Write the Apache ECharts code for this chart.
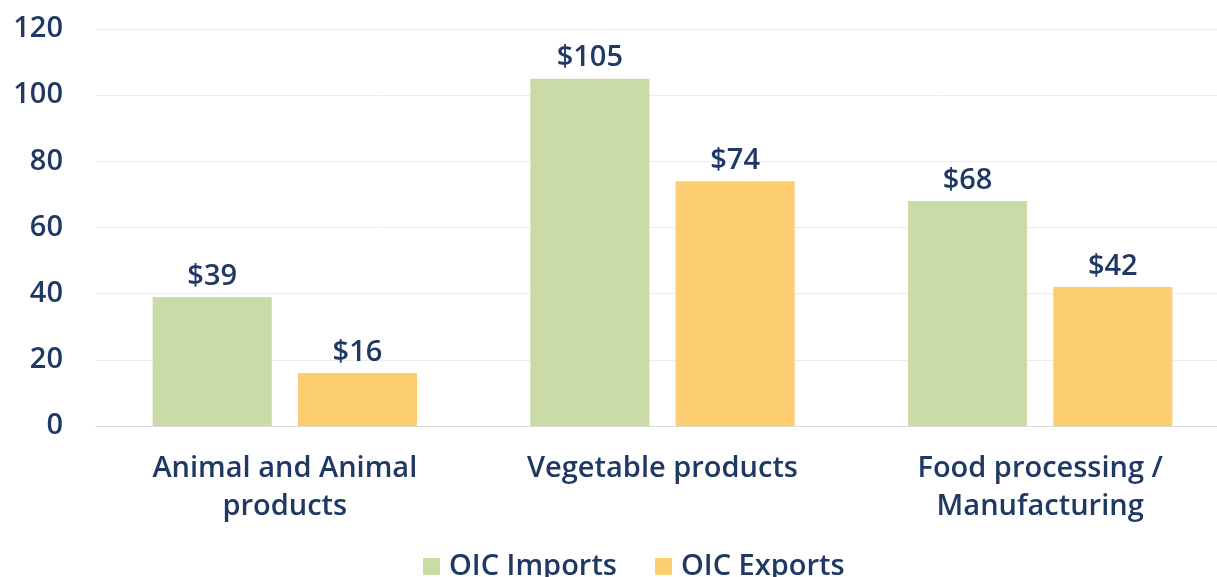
<!DOCTYPE html>
<html>
<head>
<meta charset="utf-8">
<script src="https://cdn.jsdelivr.net/npm/echarts@6/dist/echarts.min.js"></script>
<style>html,body{margin:0;padding:0;background:#fff;overflow:hidden}#main{width:1217px;height:577px}</style>
</head>
<body>
<div id="main"></div>
<script>
var chart = echarts.init(document.getElementById('main'));

var categories = ['Animal and Animal\nproducts', 'Vegetable products', 'Food processing /\nManufacturing'];
var imports = [39, 105, 68];
var exports = [16, 74, 42];

var txt = '#1f3864';
var font = 'Open Sans';

var option = {
    textStyle: { fontFamily: font },
    legend: {
        data: ['OIC Imports', 'OIC Exports'],
        bottom: -9,
        left: 418,
        itemWidth: 17,
        itemHeight: 17,
        itemGap: 38,
        icon: 'rect',
        textStyle: { color: txt, fontSize: 29, fontWeight: 600, fontFamily: font, padding: [0, 0, 0, 4] }
    },
    grid: { left: 96, width: 1133, top: 29, bottom: 151, outerBoundsMode: 'none', containLabel: false },
    xAxis: {
        type: 'category',
        data: categories,
        axisTick: { show: false },
        axisLine: { lineStyle: { color: '#d9d9d9' } },
        axisLabel: { color: txt, fontSize: 29, fontWeight: 600, fontFamily: font, lineHeight: 38, margin: 24, interval: 0 }
    },
    yAxis: {
        type: 'value',
        min: 0, max: 120, interval: 20,
        axisLabel: { color: txt, fontSize: 29, fontWeight: 600, fontFamily: font, margin: 33 },
        splitLine: { lineStyle: { color: '#ececec' } }
    },
    series: [
        {
            name: 'OIC Imports', type: 'bar', data: imports,
            barGap: '22%', barCategoryGap: '30%',
            itemStyle: { color: '#cadba8' },
            label: { show: true, position: 'top', formatter: '${c}', color: txt, fontSize: 29, fontWeight: 600, fontFamily: font, distance: 6 }
        },
        {
            name: 'OIC Exports', type: 'bar', data: exports,
            itemStyle: { color: '#fdcd72' },
            label: { show: true, position: 'top', formatter: '${c}', color: txt, fontSize: 29, fontWeight: 600, fontFamily: font, distance: 6 }
        }
    ]
};

chart.setOption(option);
</script>
</body>
</html>
